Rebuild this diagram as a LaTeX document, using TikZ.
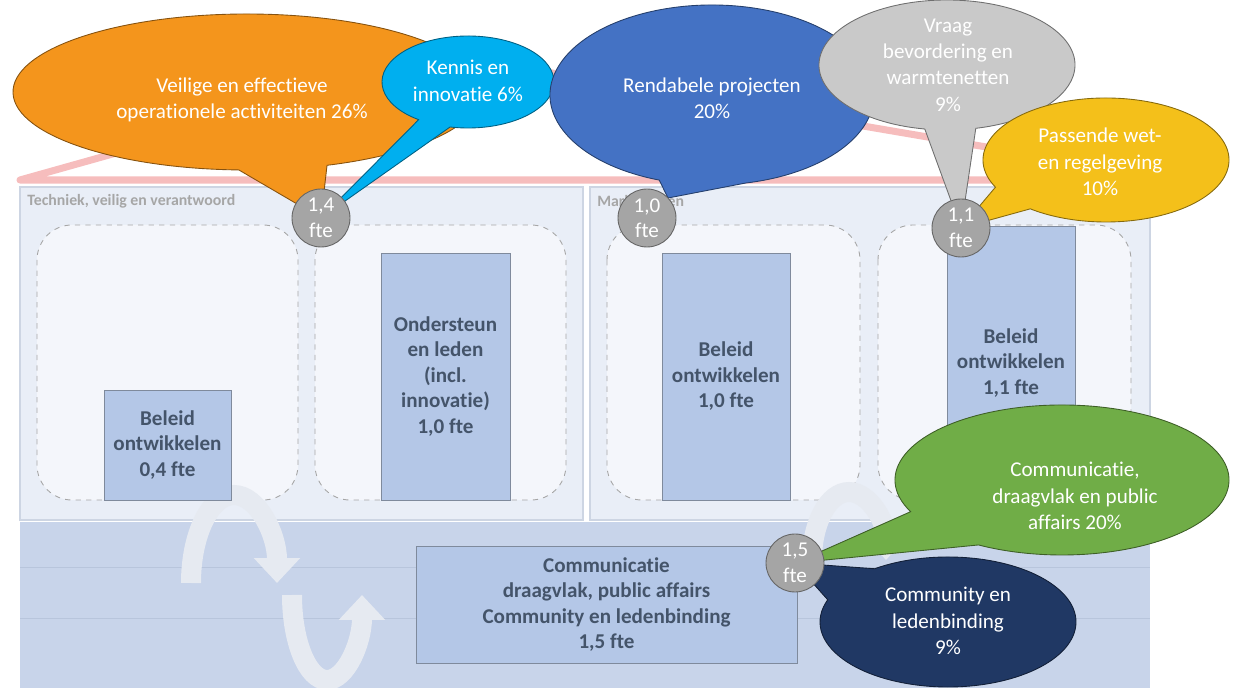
\documentclass[tikz,border=0pt]{standalone}
\usepackage{fontspec}
\setmainfont{Carlito}[Ligatures=NoCommon]
\usetikzlibrary{arrows.meta}

\definecolor{panelfill}{HTML}{E9EEF7}
\definecolor{panelline}{HTML}{CDD5E3}
\definecolor{boxfill}{HTML}{F4F6FB}
\definecolor{barfill}{HTML}{B4C7E7}
\definecolor{barline}{HTML}{7F8A9C}
\definecolor{bartext}{HTML}{44546A}
\definecolor{bandfill}{HTML}{C8D4EA}
\definecolor{bandline}{HTML}{B8C5DC}
\definecolor{roofpink}{HTML}{F6BDBD}
\definecolor{ftegray}{HTML}{A5A5A5}
\definecolor{flowwhite}{HTML}{E6EAF1}
\definecolor{orangeb}{HTML}{F4951C}
\definecolor{cyanb}{HTML}{00AFEF}
\definecolor{blueb}{HTML}{4472C4}
\definecolor{grayb}{HTML}{C9C9C9}
\definecolor{yellowb}{HTML}{F4C01A}
\definecolor{greenb}{HTML}{70AD47}
\definecolor{navyb}{HTML}{203864}

% ellipse with a tail: colour, centre, x radius, y radius, start, end, tip
\newcommand{\bubble}[7]{%
  \filldraw[fill=#1, draw=#1!55!black, line width=0.5pt]
    (#2) ++(#5:#3 and #4) arc[start angle=#5, end angle=#6, x radius=#3, y radius=#4]
    -- (#7) -- cycle;}

\begin{document}
\begin{tikzpicture}[x=0.02cm, y=-0.02cm,
  panel/.style={fill=panelfill, draw=panelline, line width=0.6pt},
  lanebox/.style={fill=boxfill, draw=gray!70, dashed, rounded corners=0.7cm, line width=0.5pt},
  bar/.style={fill=barfill, draw=barline, line width=0.5pt, text=bartext, align=center,
    inner sep=0pt, font=\bfseries\fontsize{12}{14.5}\selectfont},
  fte/.style={circle, fill=ftegray, draw=gray!80!black, line width=0.5pt, minimum size=1.16cm,
    inner sep=0pt, text=white, align=center, font=\fontsize{12}{14.5}\selectfont},
  bubtext/.style={text=white, align=center, font=\fontsize{12}{15}\selectfont},
  lanelabel/.style={anchor=west, text=gray!70, inner sep=0pt, font=\bfseries\fontsize{9}{11}\selectfont},
  roof/.style={draw=roofpink, line width=4pt, line join=round},
  flow/.style={draw=flowwhite, line width=0.4cm, -{Triangle[width=0.9cm,length=0.5cm]}}]
\useasboundingbox (0,0) rectangle (1235,688);

% roof
\draw[roof] (20,180) -- (458,57) -- (1180,180) -- cycle;

% lanes
\draw[panel] (20,187) rectangle (583,520);
\draw[panel] (590,187) rectangle (1150,520);
\node[lanelabel] (techlabel) at (27,201) {Techniek, veilig en verantwoord};
\node[lanelabel] (marktlabel) at (597,201) {Marktkansen};
\foreach \xa/\xb in {37/298, 315/566, 607/860, 878/1131}
  \draw[lanebox] (\xa,225) rectangle (\xb,500);

% bottom band
\fill[bandfill] (20,522) rectangle (1150,688);
\draw[bandline] (20,567) -- (1150,567) (20,618) -- (1150,618);

% cycle arrows
\draw[flow] (191,583) arc[start angle=180, end angle=360, x radius=43, y radius=88];
\draw[flow] (292,595) arc[start angle=180, end angle=0, x radius=35, y radius=85];
\draw[flow] (812,560) arc[start angle=180, end angle=360, x radius=37, y radius=68];

% fte bars
\node[bar, minimum width=2.54cm, minimum height=2.2cm] (beleid1) at (167.5,445) {Beleid\\ontwikkelen\\0,4 fte};
\node[bar, minimum width=2.58cm, minimum height=4.94cm] (leden) at (445.5,376.5) {Ondersteun\\en leden\\(incl.\\innovatie)\\1,0 fte};
\node[bar, minimum width=2.56cm, minimum height=4.94cm] (beleid2) at (726,376.5) {Beleid\\ontwikkelen\\1,0 fte};
\node[bar, minimum width=2.56cm, minimum height=5.48cm] (beleid3) at (1011,363) {Beleid\\ontwikkelen\\1,1 fte};
\node[bar, minimum width=7.62cm, minimum height=2.34cm] (commbox) at (606.5,604.5)
  {Communicatie\\draagvlak, public affairs\\Community en ledenbinding\\1,5 fte};

% bubbles
\coordinate (c14) at (321,218);
\coordinate (c10) at (647,218);
\coordinate (tip10) at (668,198);
\coordinate (c11) at (961,228);
\coordinate (c15) at (795,563);
\coordinate (veilig) at (247,92);
\coordinate (kennis) at (468,82);
\coordinate (rendabel) at (712,95);
\coordinate (vraag) at (947,65);
\coordinate (passend) at (1106,160);
\coordinate (commun) at (1062,480);
\coordinate (community) at (948,622);

\bubble{orangeb}{veilig}{234}{78}{92}{430}{c14}
\bubble{cyanb}{kennis}{86}{46}{125}{462}{c14}
\bubble{blueb}{rendabel}{162}{90}{109}{438}{tip10}
\bubble{grayb}{vraag}{128}{65}{100}{437}{c11}
\bubble{yellowb}{passend}{123}{62}{154}{488}{c11}
\bubble{navyb}{community}{128}{65}{235}{560}{c15}
\bubble{greenb}{commun}{167}{75}{155}{480}{c15}

\node[bubtext] (veiligtxt) at (242,100) {Veilige en effectieve\\operationele activiteiten 26\%};
\node[bubtext] (kennistxt) at (468,81) {Kennis en\\innovatie 6\%};
\node[bubtext] (rendabeltxt) at (712,98) {Rendabele projecten\\20\%};
\node[bubtext] (vraagtxt) at (948,65) {Vraag\\bevordering en\\warmtenetten\\9\%};
\node[bubtext] (passendtxt) at (1100,162) {Passende wet-\\en regelgeving\\10\%};
\node[bubtext] (communtxt) at (1075,496) {Communicatie,\\draagvlak en public\\affairs 20\%};
\node[bubtext] (communitytxt) at (948,621) {Community en\\ledenbinding\\9\%};

% fte circles
\node[fte] (fte14) at (c14) {1,4\\fte};
\node[fte] (fte10) at (c10) {1,0\\fte};
\node[fte] (fte11) at (c11) {1,1\\fte};
\node[fte] (fte15) at (c15) {1,5\\fte};
\end{tikzpicture}
\end{document}
